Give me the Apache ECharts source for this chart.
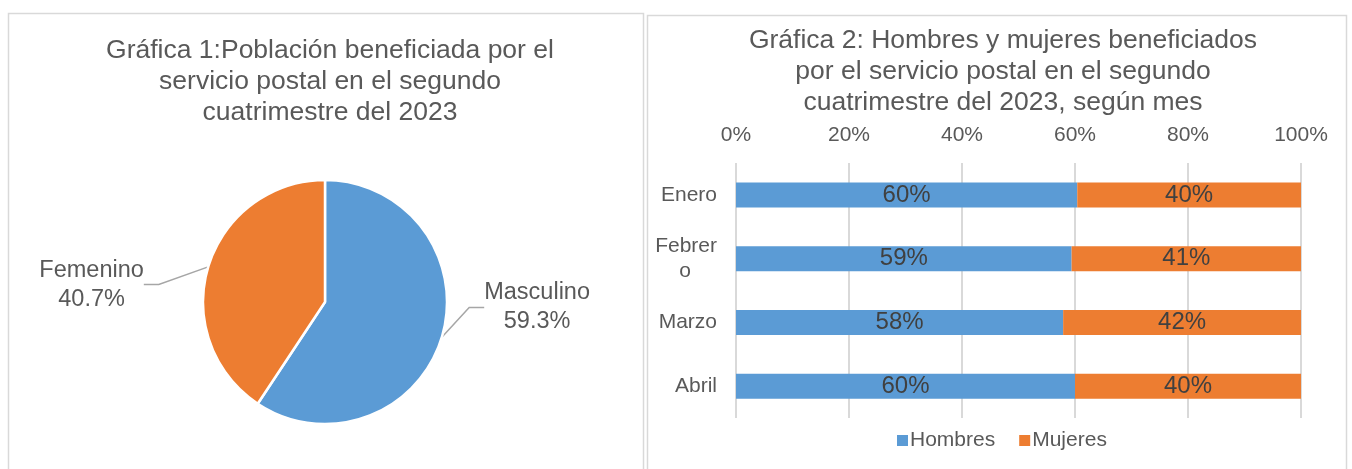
<!DOCTYPE html>
<html>
<head>
<meta charset="utf-8">
<script src="https://cdn.jsdelivr.net/npm/echarts@6/dist/echarts.min.js"></script>
<style>
html,body{margin:0;padding:0;background:#fff;}
#c{width:1352px;height:469px;}
</style>
</head>
<body>
<div id="c"></div>
<script>
// ---- data ----
const pieTitle = 'Gráfica 1:Población beneficiada por el\nservicio postal en el segundo\ncuatrimestre del 2023';
const pieNames = ['Masculino', 'Femenino'];
const pieValues = [59.3, 40.7];

const barTitle = 'Gráfica 2: Hombres y mujeres beneficiados\npor el servicio postal en el segundo\ncuatrimestre del 2023, según mes';
const months = ['Enero', 'Febrero', 'Marzo', 'Abril'];
const hombres = [60.4, 59.4, 57.9, 60.0];
const mujeres = [39.6, 40.6, 42.1, 40.0];
const seriesNames = ['Hombres', 'Mujeres'];
const xTicks = [0, 20, 40, 60, 80, 100];

// ---- styles ----
const BLUE = '#5B9BD5', ORANGE = '#ED7D31', TXT = '#595959', GRID = '#D9D9D9';
const FONT = '"Liberation Sans", Arial, sans-serif';
// label offsets (px) relative to ECharts' default outside placement
const PIE_LABEL_SHIFT = [{dx: 8, dy: -34}, {dx: -30, dy: 22}];
const MAX_CHARS = 6; // category labels wrap like the original (Febrer / o)

const chart = echarts.init(document.getElementById('c'), null, {renderer: 'canvas'});

const pieData = pieNames.map((n, i) => ({name: n, value: pieValues[i], itemStyle: {color: i === 0 ? BLUE : ORANGE}}));

const option = {
  backgroundColor: '#fff',
  textStyle: {fontFamily: FONT, color: TXT},
  animation: false,
  graphic: [
    {type: 'rect', shape: {x: 8.5, y: 13.5, width: 635, height: 470}, style: {fill: 'none', stroke: GRID, lineWidth: 1.5}, z: -1},
    {type: 'rect', shape: {x: 647.5, y: 15.5, width: 699, height: 470}, style: {fill: 'none', stroke: GRID, lineWidth: 1.5}, z: -1}
  ],
  title: [
    {text: pieTitle, left: 325, top: 30, textAlign: 'center',
     textStyle: {fontFamily: FONT, fontSize: 26.5, fontWeight: 'normal', color: TXT, lineHeight: 31}},
    {text: barTitle, left: 998, top: 20, textAlign: 'center',
     textStyle: {fontFamily: FONT, fontSize: 26.5, fontWeight: 'normal', color: TXT, lineHeight: 31}}
  ],
  legend: {
    data: seriesNames, left: 892, top: 425, itemWidth: 11, itemHeight: 11, itemGap: 24,
    icon: 'rect', textStyle: {fontFamily: FONT, fontSize: 21, color: TXT, padding: [0, 0, 0, -3]}
  },
  grid: {left: 736, right: 51, top: 163, bottom: 51},
  xAxis: {
    type: 'value', position: 'top', min: 0, max: 100, interval: 20,
    axisLine: {show: false}, axisTick: {show: false},
    axisLabel: {formatter: '{value}%', fontSize: 21, color: TXT, margin: 17, fontFamily: FONT},
    splitLine: {lineStyle: {color: GRID, width: 2}}
  },
  yAxis: {
    type: 'category', data: months, inverse: true,
    axisLine: {show: false}, axisTick: {show: false},
    axisLabel: {
      fontSize: 21, color: TXT, margin: 19, fontFamily: FONT, lineHeight: 25,
      formatter: v => v.length > MAX_CHARS ? '{r|' + v.slice(0, MAX_CHARS) + '}\n{c|' + v.slice(MAX_CHARS) + '}' : v,
      rich: {
        r: {width: 64, align: 'right', fontSize: 21, lineHeight: 25, color: TXT, fontFamily: FONT},
        c: {width: 64, align: 'center', fontSize: 21, lineHeight: 25, color: TXT, fontFamily: FONT}
      }
    }
  },
  series: [
    {type: 'pie', center: [325, 302], radius: 122, startAngle: 90, clockwise: true,
     data: pieData,
     itemStyle: {borderColor: '#fff', borderWidth: 2.5},
     label: {formatter: p => p.name + '\n' + p.value.toFixed(1) + '%', fontSize: 23.5, lineHeight: 29, color: TXT, fontFamily: FONT},
     labelLine: {length: 15, length2: 15, lineStyle: {color: '#A6A6A6', width: 1.5}},
     labelLayout: function (p) {
       const s = PIE_LABEL_SHIFT[p.dataIndex];
       const r = p.labelRect;
       return {x: r.x + r.width / 2 + s.dx, y: r.y + r.height / 2 + s.dy, align: 'center', verticalAlign: 'middle'};
     },
     emphasis: {disabled: true}
    },
    {type: 'bar', name: seriesNames[0], stack: 's', data: hombres, barWidth: 25,
     itemStyle: {color: BLUE},
     label: {show: true, position: 'inside', formatter: p => Math.round(p.value) + '%', fontSize: 24, color: '#404040', fontFamily: FONT}},
    {type: 'bar', name: seriesNames[1], stack: 's', data: mujeres, barWidth: 25,
     itemStyle: {color: ORANGE},
     label: {show: true, position: 'inside', formatter: p => Math.round(p.value) + '%', fontSize: 24, color: '#404040', fontFamily: FONT}}
  ]
};
chart.setOption(option);
</script>
</body>
</html>
